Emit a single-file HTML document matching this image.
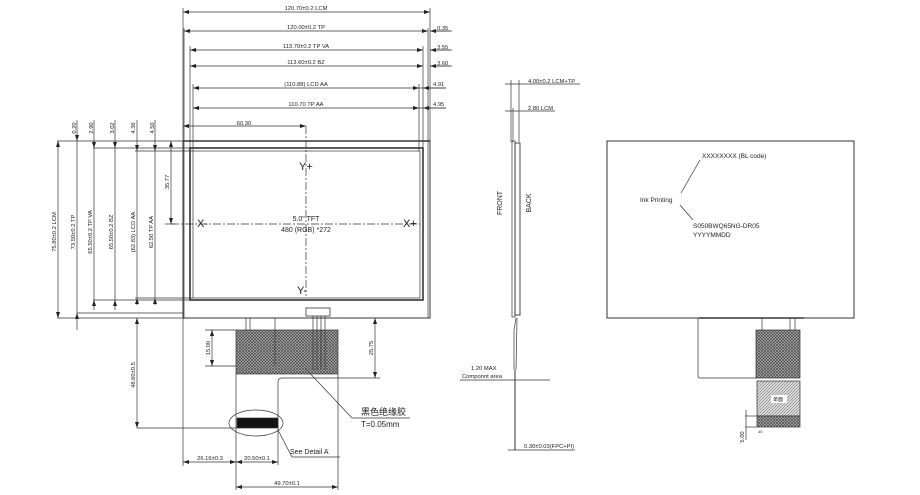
<!DOCTYPE html>
<html><head><meta charset="utf-8"><style>
html,body{margin:0;padding:0;background:#fff;}
svg{display:block;font-family:"Liberation Sans","Noto Sans CJK SC",sans-serif;}
text{fill:#222;}
.d{font-size:5.8px;}
</style></head><body>
<svg width="920" height="495" viewBox="0 0 920 495" xmlns="http://www.w3.org/2000/svg">
<defs>
<pattern id="h" width="3" height="3" patternUnits="userSpaceOnUse"><rect width="3" height="3" fill="#bbb"/><path d="M0 0L3 3M3 0L0 3" stroke="#444" stroke-width="0.7"/></pattern>
<pattern id="h2" width="3" height="3" patternUnits="userSpaceOnUse"><rect width="3" height="3" fill="#ddd"/><path d="M0 3L3 0" stroke="#777" stroke-width="0.6"/></pattern>
<marker id="a" viewBox="0 0 6 4" refX="6" refY="2" markerWidth="6" markerHeight="4" markerUnits="userSpaceOnUse" orient="auto-start-reverse"><path d="M0 0L6 2L0 4z" fill="#222"/></marker>
</defs>
<g stroke="#333" stroke-width="0.7" fill="none">
<rect x="183" y="141" width="247" height="177" stroke-width="1"/>
<line x1="183" y1="141" x2="430" y2="141" stroke-width="1.5"/>
<rect x="190" y="148" width="233" height="152" stroke-width="1.6"/>
<rect x="193" y="151" width="227" height="147"/>
<line x1="184" y1="141" x2="184" y2="318"/>
<line x1="428" y1="141" x2="428" y2="318"/>
<line x1="183" y1="8" x2="183" y2="141"/>
<line x1="430" y1="8" x2="430" y2="141"/>
<line x1="184" y1="28" x2="184" y2="141"/>
<line x1="428" y1="28" x2="428" y2="141"/>
<line x1="190" y1="46" x2="190" y2="148"/>
<line x1="423" y1="46" x2="423" y2="148"/>
<line x1="193" y1="84" x2="193" y2="151"/>
<line x1="419" y1="84" x2="419" y2="151"/>
</g>
<g stroke="#333" stroke-width="0.7" fill="none" marker-start="url(#a)" marker-end="url(#a)">
<line x1="183" y1="12" x2="430" y2="12"/>
<line x1="184" y1="31" x2="428" y2="31"/>
<line x1="190" y1="50" x2="423" y2="50"/>
<line x1="190" y1="66" x2="423" y2="66"/>
<line x1="193" y1="88" x2="419" y2="88"/>
<line x1="193" y1="108" x2="419" y2="108"/>
<line x1="183" y1="126" x2="306" y2="126"/>
<line x1="58" y1="141" x2="58" y2="318"/>
<line x1="171" y1="141" x2="171" y2="224"/>
<line x1="212" y1="330" x2="212" y2="366"/>
<line x1="375" y1="318" x2="375" y2="378"/>
<line x1="137" y1="318" x2="137" y2="428"/>
<line x1="183" y1="462" x2="236" y2="462"/>
<line x1="236" y1="462" x2="278" y2="462"/>
<line x1="236" y1="487" x2="338" y2="487"/>
</g>
<g stroke="#333" stroke-width="0.7" fill="none" marker-end="url(#a)">
<line x1="77" y1="120" x2="77" y2="141"/><line x1="77" y1="330" x2="77" y2="313"/>
<line x1="94" y1="120" x2="94" y2="148"/><line x1="94" y1="310" x2="94" y2="300"/>
<line x1="115" y1="120" x2="115" y2="148"/><line x1="115" y1="310" x2="115" y2="300"/>
<line x1="137" y1="120" x2="137" y2="151"/><line x1="137" y1="305" x2="137" y2="298"/>
<line x1="155" y1="120" x2="155" y2="151"/><line x1="155" y1="305" x2="155" y2="298"/>
<line x1="450" y1="31" x2="430" y2="31"/><line x1="450" y1="50" x2="430" y2="50"/><line x1="450" y1="66" x2="430" y2="66"/>
<line x1="446" y1="88" x2="423" y2="88"/><line x1="446" y1="108" x2="423" y2="108"/>
</g>
<g stroke="#333" stroke-width="0.7" fill="none">
<line x1="430" y1="31" x2="452" y2="31"/>
<line x1="430" y1="50" x2="452" y2="50"/>
<line x1="430" y1="66" x2="452" y2="66"/>
<line x1="419" y1="88" x2="446" y2="88"/>
<line x1="419" y1="108" x2="446" y2="108"/>
<line x1="77" y1="141" x2="77" y2="313"/>
<line x1="94" y1="148" x2="94" y2="300"/>
<line x1="115" y1="148" x2="115" y2="300"/>
<line x1="137" y1="151" x2="137" y2="298"/>
<line x1="155" y1="151" x2="155" y2="298"/>
<line x1="57" y1="141" x2="183" y2="141"/>
<line x1="93" y1="148" x2="190" y2="148"/>
<line x1="135" y1="151" x2="193" y2="151"/>
<line x1="93" y1="300" x2="190" y2="300"/>
<line x1="135" y1="298" x2="193" y2="298"/>
<line x1="77" y1="313" x2="184" y2="313"/>
<line x1="57" y1="318" x2="183" y2="318"/>
<line x1="165" y1="224" x2="175" y2="224"/>
<line x1="306" y1="126" x2="306" y2="296" stroke-dasharray="8 2 2 2"/>
<line x1="171" y1="224" x2="420" y2="224" stroke-dasharray="8 2 2 2"/>
<rect x="306" y="308" width="24" height="8" stroke-width="0.8"/>
<rect x="236" y="330" width="102" height="44" fill="url(#h)"/>
<line x1="246" y1="318" x2="246" y2="330"/><line x1="250" y1="318" x2="250" y2="330"/>
<line x1="275" y1="318" x2="275" y2="365"/>
<line x1="313" y1="316" x2="313" y2="370"/><line x1="317" y1="316" x2="317" y2="370"/><line x1="321" y1="316" x2="321" y2="370"/><line x1="325" y1="316" x2="325" y2="370"/>
<line x1="236" y1="374" x2="236" y2="490"/>
<path d="M338 374 L338 490"/>
<path d="M338 378 L282 378 Q278 378 278 382 L278 465"/>
<rect x="237" y="418" width="41" height="10" fill="#111"/>
<ellipse cx="256" cy="423" rx="27" ry="13"/>
<line x1="183" y1="318" x2="183" y2="466"/>
<line x1="205" y1="330" x2="236" y2="330"/><line x1="205" y1="366" x2="236" y2="366"/>
<line x1="338" y1="318" x2="380" y2="318"/><line x1="338" y1="378" x2="380" y2="378"/>
<line x1="137" y1="428" x2="237" y2="428"/>
<path d="M305 368 L352 418 L410 418"/>
<path d="M278 430 L292 457 L340 457"/>
<!-- side view -->
<line x1="511" y1="80" x2="511" y2="142"/><line x1="519" y1="80" x2="519" y2="142"/>
<line x1="505" y1="84" x2="580" y2="84"/>
<line x1="505" y1="111" x2="555" y2="111"/>
<line x1="513" y1="108" x2="513" y2="142"/>
<rect x="512" y="141" width="3" height="176"/>
<rect x="515" y="143" width="5" height="172" stroke-width="0.9"/>
<line x1="516" y1="318" x2="514" y2="330"/><line x1="514" y1="330" x2="514" y2="370"/><line x1="517" y1="318" x2="516" y2="370"/>
<line x1="515" y1="370" x2="515" y2="450" stroke-width="1"/>
<line x1="460" y1="380" x2="550" y2="380"/>
<line x1="508" y1="450" x2="575" y2="450"/>
<!-- back view -->
<rect x="607" y="141" width="247" height="177" stroke-width="1"/>
<path d="M700 160 L681 193 M680 205 L693 220"/>
<path d="M698 318 L698 376 Q698 378 700 378 L757 378"/>
<line x1="699" y1="318" x2="804" y2="318" stroke-width="1.5"/>
<line x1="762" y1="318" x2="762" y2="330"/><line x1="790" y1="318" x2="790" y2="330"/><line x1="795" y1="318" x2="795" y2="330"/>
<rect x="756" y="330" width="44" height="48" fill="url(#h)"/>
<rect x="757" y="381" width="43" height="35" fill="url(#h2)"/>
<rect x="757" y="416" width="43" height="11" fill="url(#h)"/>
<line x1="745" y1="416" x2="757" y2="416"/><line x1="745" y1="427" x2="757" y2="427"/>
<line x1="746" y1="410" x2="746" y2="440"/>
</g>
<rect x="771" y="395" width="16" height="8" fill="#fff"/>
<text x="773" y="401" font-size="5">单面</text>
<g class="d" text-anchor="middle">
<text x="306" y="10">120.70±0.2 LCM</text>
<text x="306" y="29">120.00±0.2 TP</text>
<text x="306" y="48">113.70±0.2 TP VA</text>
<text x="306" y="64">113.60±0.2 BZ</text>
<text x="306" y="86">(110.88) LCD AA</text>
<text x="306" y="106">110.70 TP AA</text>
<text x="244" y="125">60.30</text>
<text x="257" y="460">20.50±0.1</text>
<text x="210" y="460">26.16±0.3</text>
<text x="287" y="485">49.70±0.1</text>
</g>
<g class="d">
<text x="437" y="30">0.35</text><text x="437" y="49">3.55</text><text x="437" y="65">3.60</text>
<text x="433" y="86">4.91</text><text x="433" y="106">4.95</text>
</g>
<g class="d" text-anchor="middle">
<text transform="translate(76,128) rotate(-90)">0.20</text>
<text transform="translate(93,128) rotate(-90)">2.90</text>
<text transform="translate(114,128) rotate(-90)">3.02</text>
<text transform="translate(135,128) rotate(-90)">4.36</text>
<text transform="translate(154,128) rotate(-90)">4.50</text>
<text transform="translate(56,232) rotate(-90)">75.80±0.2 LCM</text>
<text transform="translate(75,232) rotate(-90)">73.50±0.2 TP</text>
<text transform="translate(92,232) rotate(-90)">65.50±0.2 TP VA</text>
<text transform="translate(113,232) rotate(-90)">65.50±0.2 BZ</text>
<text transform="translate(135,232) rotate(-90)">(62.83) LCD AA</text>
<text transform="translate(153,232) rotate(-90)">62.50 TP AA</text>
<text transform="translate(169,182) rotate(-90)">35.77</text>
<text transform="translate(210,348) rotate(-90)">15.00</text>
<text transform="translate(373,348) rotate(-90)">25.75</text>
<text transform="translate(135,375) rotate(-90)">48.60±0.5</text>
<text transform="translate(744,437) rotate(-90)">5.00</text>
</g>
<g font-size="11">
<text x="299" y="170">Y+</text>
<text x="197" y="227">X-</text>
<text x="403" y="227">X+</text>
<text x="297" y="294">Y-</text>
</g>
<text x="306" y="221" font-size="7" text-anchor="middle">5.0" TFT</text>
<text x="306" y="232" font-size="7" text-anchor="middle">480 (RGB) *272</text>
<text x="361" y="415" font-size="9">黑色绝缘胶</text>
<text x="361" y="427" font-size="8">T=0.05mm</text>
<text x="290" y="454" font-size="7">See Detail A</text>
<text x="528" y="83" class="d">4.00±0.2  LCM+TP</text>
<text x="528" y="110" class="d">2.80 LCM</text>
<text transform="translate(502,203) rotate(-90)" font-size="7" text-anchor="middle">FRONT</text>
<text transform="translate(531,203) rotate(-90)" font-size="7" text-anchor="middle">BACK</text>
<text x="471" y="370" class="d">1.20 MAX</text>
<text x="462" y="378" class="d">Componnt area</text>
<text x="524" y="448" class="d">0.30±0.03(FPC+PI)</text>
<g font-size="6.5">
<text x="702" y="158">XXXXXXXX (BL code)</text>
<text x="640" y="202">Ink Printing</text>
<text x="693" y="228">S050BWQ65NG-DR05</text>
<text x="693" y="237">YYYYMMDD</text>
</g>
<text x="758" y="433" font-size="4">40</text>
</svg>
</body></html>
